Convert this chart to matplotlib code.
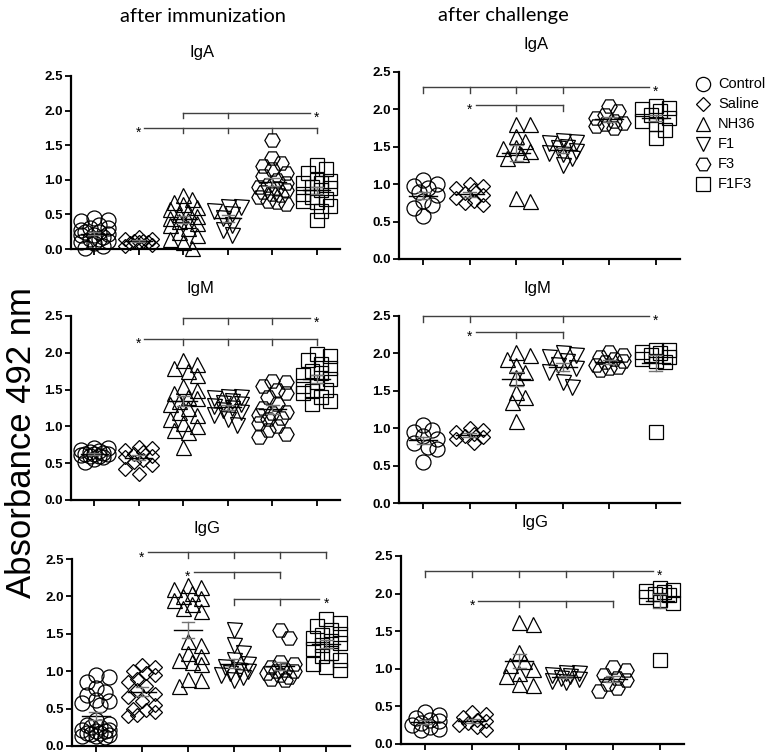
import numpy as np
import matplotlib
matplotlib.use('Agg')
import matplotlib.pyplot as plt
from matplotlib.lines import Line2D

W, H = 765, 754

groups = ['Control', 'Saline', 'NH36', 'F1', 'F3', 'F1F3']
markers = ['o', 'D', '^', 'v', 'H', 's']
msizes = [10.8, 7.0, 10.8, 10.8, 11.0, 10.0]

# ---------------- data: after immunization ----------------
imm_IgA_control = [0.45, 0.42, 0.40, 0.35, 0.30, 0.28, 0.25, 0.22, 0.20, 0.18,
                   0.15, 0.12, 0.10, 0.08, 0.05, 0.30, 0.25, 0.20, 0.15, 0.02]
imm_IgA_saline = [0.15, 0.18, 0.12, 0.10, 0.08, 0.05, 0.10, 0.12, 0.06, 0.15]
imm_IgA_nh36 = [0.78, 0.72, 0.68, 0.65, 0.60, 0.55, 0.50, 0.45, 0.42, 0.38,
                0.35, 0.30, 0.25, 0.20, 0.15, 0.10, 0.02, 0.40, 0.48, 0.58]
imm_IgA_f1 = [0.60, 0.60, 0.55, 0.50, 0.45, 0.35, 0.28, 0.20]
imm_IgA_f3 = [1.57, 1.32, 1.25, 1.20, 1.15, 1.05, 1.00, 0.95, 0.90, 0.85,
              0.82, 0.80, 0.78, 0.75, 0.70, 0.65, 0.88, 0.92, 1.10, 0.68]
imm_IgA_f1f3 = [1.22, 1.15, 1.10, 1.00, 0.98, 0.95, 0.90, 0.85, 0.80, 0.75,
                0.72, 0.68, 0.62, 0.55, 0.42, 0.95, 0.70, 0.88]

imm_IgM_control = [0.70, 0.70, 0.68, 0.66, 0.65, 0.64, 0.63, 0.62, 0.62, 0.61,
                   0.60, 0.60, 0.58, 0.56, 0.52]
imm_IgM_saline = [0.72, 0.70, 0.68, 0.65, 0.62, 0.60, 0.58, 0.55, 0.52, 0.48, 0.42, 0.35]
imm_IgM_nh36 = [1.90, 1.85, 1.80, 1.75, 1.70, 1.55, 1.50, 1.45, 1.40, 1.38,
                1.35, 1.30, 1.25, 1.20, 1.15, 1.10, 1.05, 1.00, 0.95, 0.92, 0.72]
imm_IgM_f1 = [1.40, 1.40, 1.38, 1.35, 1.32, 1.30, 1.28, 1.25, 1.22, 1.20, 1.15, 1.10, 1.02]
imm_IgM_f3 = [1.62, 1.60, 1.55, 1.50, 1.45, 1.40, 1.30, 1.25, 1.20, 1.15,
              1.10, 1.05, 1.00, 0.95, 0.90, 0.85, 1.18, 1.12]
imm_IgM_f1f3 = [1.98, 1.95, 1.90, 1.85, 1.80, 1.75, 1.72, 1.70, 1.65, 1.60,
                1.55, 1.50, 1.48, 1.45, 1.40, 1.35, 1.30]

imm_IgG_control = [0.95, 0.92, 0.85, 0.78, 0.72, 0.68, 0.62, 0.60, 0.58, 0.55,
                   0.35, 0.30, 0.28, 0.25, 0.22, 0.20, 0.18, 0.15, 0.14, 0.12,
                   0.16, 0.13, 0.20, 0.22, 0.18, 0.25]
imm_IgG_saline = [1.08, 1.05, 1.00, 0.98, 0.95, 0.90, 0.85, 0.80, 0.75, 0.70,
                  0.65, 0.60, 0.55, 0.50, 0.48, 0.45, 0.42, 0.40]
imm_IgG_nh36 = [2.15, 2.12, 2.10, 2.05, 2.00, 1.98, 1.95, 1.90, 1.85, 1.80,
                1.40, 1.35, 1.25, 1.20, 1.15, 1.12, 1.10, 0.90, 0.88, 0.80]
imm_IgG_f1 = [1.55, 1.35, 1.25, 1.15, 1.10, 1.05, 1.02, 1.00, 0.98, 0.95, 0.92, 0.88]
imm_IgG_f3 = [1.55, 1.45, 1.12, 1.00, 1.10, 1.05, 1.02, 1.00, 0.98, 0.95, 0.92, 0.90, 0.88]
imm_IgG_f1f3 = [1.70, 1.65, 1.60, 1.55, 1.50, 1.48, 1.45, 1.40, 1.38, 1.35,
                1.30, 1.25, 1.20, 1.15, 1.10, 1.05, 1.02]

# ---------------- data: after challenge ----------------
ch_IgA_control = [1.05, 1.00, 0.98, 0.95, 0.90, 0.85, 0.78, 0.72, 0.68, 0.57]
ch_IgA_saline = [1.00, 0.98, 0.95, 0.92, 0.88, 0.85, 0.82, 0.78, 0.75, 0.72]
ch_IgA_nh36 = [1.80, 1.80, 1.65, 1.58, 1.50, 1.48, 1.45, 1.40, 1.35, 0.82, 0.78]
ch_IgA_f1 = [1.58, 1.56, 1.55, 1.50, 1.48, 1.45, 1.42, 1.40, 1.35, 1.25]
ch_IgA_f3 = [2.05, 1.98, 1.92, 1.88, 1.85, 1.82, 1.80, 1.78, 1.75]
ch_IgA_f1f3 = [2.05, 2.02, 2.00, 1.98, 1.92, 1.88, 1.85, 1.80, 1.72, 1.62]

ch_IgM_control = [1.04, 0.98, 0.95, 0.90, 0.85, 0.80, 0.75, 0.72, 0.55]
ch_IgM_saline = [1.00, 0.98, 0.95, 0.92, 0.90, 0.88, 0.85, 0.80]
ch_IgM_nh36 = [2.02, 1.98, 1.92, 1.85, 1.75, 1.68, 1.48, 1.42, 1.35, 1.10]
ch_IgM_f1 = [2.00, 1.98, 1.95, 1.90, 1.85, 1.80, 1.75, 1.62, 1.55]
ch_IgM_f3 = [2.02, 1.98, 1.95, 1.92, 1.90, 1.88, 1.85, 1.82, 1.80, 1.78]
ch_IgM_f1f3 = [2.05, 2.04, 2.02, 2.00, 1.98, 1.95, 1.92, 1.90, 1.88, 0.95]

ch_IgG_control = [0.42, 0.38, 0.35, 0.32, 0.30, 0.28, 0.25, 0.22, 0.20, 0.18]
ch_IgG_saline = [0.42, 0.40, 0.36, 0.32, 0.30, 0.28, 0.25, 0.22, 0.18]
ch_IgG_nh36 = [1.62, 1.60, 1.22, 1.10, 1.05, 1.00, 0.95, 0.90, 0.80, 0.78]
ch_IgG_f1 = [0.95, 0.94, 0.92, 0.90, 0.88, 0.86, 0.84, 0.82]
ch_IgG_f3 = [1.03, 0.98, 0.92, 0.88, 0.85, 0.80, 0.75, 0.70]
ch_IgG_f1f3 = [2.08, 2.05, 2.02, 2.00, 1.98, 1.95, 1.92, 1.88, 1.12, 2.03]

yticks = [0.0, 0.5, 1.0, 1.5, 2.0, 2.5]
ytick_labels = ['0.0', '0.5', '1.0', '1.5', '2.0', '2.5']

# significance brackets: (line level, groups with down ticks, group with asterisk)
br_imm_IgA = [(1.97, [2, 3], 5), (1.75, [2, 3, 4, 5], 1)]
br_imm_IgM = [(2.47, [2, 3, 4], 5), (2.19, [2, 3, 4, 5], 1)]
br_imm_IgG = [(2.59, [2, 3, 4, 5], 1), (2.33, [3, 4], 2), (1.97, [3, 4], 5)]
br_ch_IgA = [(2.30, [0, 1, 2, 3], 5), (2.06, [2, 3], 1)]
br_ch_IgM = [(2.50, [0, 1, 3], 5), (2.29, [2, 3], 1)]
br_ch_IgG = [(2.30, [0, 1, 2, 3, 4], 5), (1.90, [2, 3, 4], 1)]

panels = [
    ((71, 76, 340, 249), 'IgA', (202, 52),
     [imm_IgA_control, imm_IgA_saline, imm_IgA_nh36, imm_IgA_f1, imm_IgA_f3, imm_IgA_f1f3], br_imm_IgA),
    ((71, 316, 340, 500), 'IgM', (200, 289),
     [imm_IgM_control, imm_IgM_saline, imm_IgM_nh36, imm_IgM_f1, imm_IgM_f3, imm_IgM_f1f3], br_imm_IgM),
    ((72, 559, 350, 746), 'IgG', (207, 529),
     [imm_IgG_control, imm_IgG_saline, imm_IgG_nh36, imm_IgG_f1, imm_IgG_f3, imm_IgG_f1f3], br_imm_IgG),
    ((399, 72, 680, 259), 'IgA', (536, 45),
     [ch_IgA_control, ch_IgA_saline, ch_IgA_nh36, ch_IgA_f1, ch_IgA_f3, ch_IgA_f1f3], br_ch_IgA),
    ((399, 316, 680, 503), 'IgM', (537, 288),
     [ch_IgM_control, ch_IgM_saline, ch_IgM_nh36, ch_IgM_f1, ch_IgM_f3, ch_IgM_f1f3], br_ch_IgM),
    ((401, 556, 684, 744), 'IgG', (535, 522),
     [ch_IgG_control, ch_IgG_saline, ch_IgG_nh36, ch_IgG_f1, ch_IgG_f3, ch_IgG_f1f3], br_ch_IgG),
]

FONT = 'Liberation Sans'
XLIM = (-0.52, 5.52)


def swarm_offsets(vals, ppu_x, ppu_y, d):
    """Deterministic beeswarm-like spreading (pixel units -> data units)."""
    vals = np.asarray(vals, float)
    order = np.argsort(-vals, kind='stable')
    placed = []
    offs = np.zeros(len(vals))
    step = 4.5
    cands = [0.0]
    for k in range(1, 4):
        cands += [k * step, -k * step]
    for i in order:
        y = vals[i] * ppu_y
        chosen = None
        best_c, best_d = 0.0, -1
        for c in cands:
            md = min([np.hypot(c - px, y - py) for px, py in placed] + [1e9])
            if md >= 0.7 * d:
                chosen = c
                break
            if md > best_d:
                best_d, best_c = md, c
        if chosen is None:
            chosen = best_c
        offs[i] = chosen / ppu_x
        placed.append((chosen, y))
    return offs


fig = plt.figure(figsize=(W / 100, H / 100), dpi=100)

for box, title, tpos, data, brackets in panels:
    x1, yt, x2, yb = box
    ax = fig.add_axes([x1 / W, 1 - yb / H, (x2 - x1) / W, (yb - yt) / H])
    ax.set_xlim(*XLIM)
    ax.set_ylim(0, 2.5)
    ppu_x = (x2 - x1) / (XLIM[1] - XLIM[0])
    ppu_y = (yb - yt) / 2.5
    for gi, vals in enumerate(data):
        offs = swarm_offsets(vals, ppu_x, ppu_y, 14)
        ax.plot(gi + offs, vals, linestyle='none', marker=markers[gi],
                ms=msizes[gi], mfc='none', mec='black', mew=0.9, clip_on=False, zorder=3)
        m = np.mean(vals)
        sem = np.std(vals, ddof=1) / np.sqrt(len(vals))
        ax.plot([gi - 0.3, gi + 0.3], [m, m], color='black', lw=1.0, zorder=4)
        ax.plot([gi, gi], [m - sem, m + sem], color='0.45', lw=1.0, zorder=4)
        for yy in (m - sem, m + sem):
            ax.plot([gi - 0.14, gi + 0.14], [yy, yy], color='0.45', lw=1.0, zorder=4)
    tick_len = 0.08
    for ylev, ticks, star in brackets:
        lo = min(ticks + [star])
        hi = max(ticks + [star])
        xs = lo + (0.13 if star == lo else 0)
        xe = hi - (0.15 if star == hi else 0)
        ax.plot([xs, xe], [ylev, ylev], color='0.25', lw=1.0, clip_on=False)
        for t in ticks:
            ax.plot([t, t], [ylev, ylev - tick_len], color='0.25', lw=1.0, clip_on=False)
        ax.annotate('*', (star, ylev), xytext=(0, -6.5), textcoords='offset points',
                    ha='center', va='baseline', fontsize=10, family=FONT,
                    annotation_clip=False)
    for s in ['top', 'right']:
        ax.spines[s].set_visible(False)
    for s in ['left', 'bottom']:
        ax.spines[s].set_linewidth(1.6)
    ax.set_xticks(range(len(groups)))
    ax.set_xticklabels([])
    ax.set_yticks(yticks)
    ax.set_yticklabels(ytick_labels, fontsize=9.5, fontweight='bold', family=FONT)
    ax.tick_params(axis='both', length=4, width=1.3, direction='out', pad=2)
    fig.text(tpos[0] / W, 1 - tpos[1] / H, title, ha='center', va='center',
             fontsize=12, family=FONT)

fig.text(203 / W, 1 - 16 / H, 'after immunization', ha='center', va='center',
         fontsize=14.5, family='Lato')
fig.text(503 / W, 1 - 16 / H, 'after challenge', ha='center', va='center',
         fontsize=14.5, family='Lato')
fig.text(22 / W, 1 - 443 / H, 'Absorbance 492 nm', rotation=90, ha='center',
         va='center', fontsize=25, family=FONT)

for k, (g, mk) in enumerate(zip(groups, markers)):
    yy = 1 - (84 + 20 * k) / H
    fig.add_artist(Line2D([703 / W], [yy], marker=mk, ms=msizes[k] * 0.95, mfc='none',
                          mec='black', mew=0.9, linestyle='none',
                          transform=fig.transFigure))
    fig.text(718 / W, yy, g, ha='left', va='center', fontsize=10.5, family=FONT)

fig.savefig('out.png', dpi=100)
